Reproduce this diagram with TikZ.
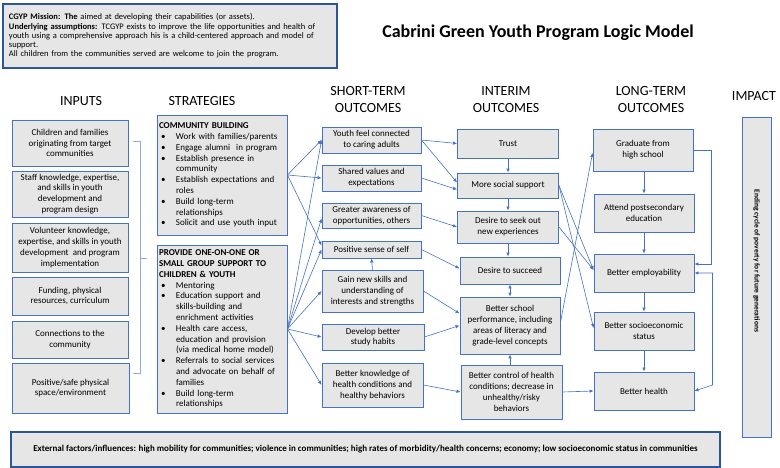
\documentclass[tikz,border=0pt]{standalone}
\usepackage{fontspec}
\setmainfont{Carlito}
\usetikzlibrary{arrows.meta}
\definecolor{boxblue}{HTML}{4472C4}
\definecolor{darkblue}{HTML}{2F5597}
\definecolor{boxgray}{HTML}{E7E6E6}
\definecolor{bracketblue}{HTML}{8FAADC}
\newcommand{\bitem}[1]{\par\noindent\hangindent=17pt\hangafter=1\makebox[17pt][l]{\hspace{2pt}\textbullet}#1\par}

\begin{document}
\begin{tikzpicture}[x=1pt,y=-1pt,
  box/.style={draw=boxblue, fill=boxgray, line width=0.9pt, align=center, inner sep=2pt, font=\fontsize{9}{10.8}\selectfont},
  stratbox/.style={box, align=left, text width=126pt, inner xsep=2pt},
  outerbox/.style={draw=darkblue, fill=boxgray, line width=1.6pt},
  heading/.style={font=\fontsize{14}{17}\selectfont, align=center},
  link/.style={draw=boxblue, line width=0.6pt, -{Latex[length=4pt,width=3.5pt]}},
  twolink/.style={link, {Latex[length=4pt,width=3.5pt]}-{Latex[length=4pt,width=3.5pt]}},
]
\useasboundingbox (0,0) rectangle (780,468);

% mission and title
\node[outerbox, minimum width=334pt, minimum height=64pt, text width=322pt, inner xsep=6pt, align=left, font=\fontsize{8.5}{9.2}\selectfont] (mission) at (170,36)
  {\textbf{CGYP Mission: The} aimed at developing their capabilities (or assets).\\
   \textbf{Underlying assumptions:} TCGYP exists to improve the life opportunities and health of\\
   youth using a comprehensive approach his is a child-centered approach and model of\\
   support.\\
   All children from the communities served are welcome to join the program.};
\node[font=\fontsize{18}{20}\bfseries\selectfont] (title) at (538,33) {Cabrini Green Youth Program Logic Model};

% column headings
\node[heading] (hin) at (81,101) {INPUTS};
\node[heading] (hstr) at (202,101) {STRATEGIES};
\node[heading] (hst) at (368,100) {SHORT-TERM\\OUTCOMES};
\node[heading] (hit) at (506,100) {INTERIM\\OUTCOMES};
\node[heading] (hlt) at (651,100) {LONG-TERM\\OUTCOMES};
\node[heading] (himp) at (754,96) {IMPACT};

% inputs
\node[box, minimum width=116pt, minimum height=46pt] (in1) at (70,143) {Children and families\\originating from target\\communities};
\node[box, minimum width=116pt, minimum height=46pt] (in2) at (70,194) {Staff knowledge, expertise,\\and skills in youth\\development and\\program design};
\node[box, minimum width=116pt, minimum height=49pt] (in3) at (70,247.5) {Volunteer knowledge,\\expertise, and skills in youth\\development\ \ and program\\implementation};
\node[box, minimum width=116pt, minimum height=38pt] (in4) at (70,296) {Funding, physical\\resources, curriculum};
\node[box, minimum width=116pt, minimum height=37pt] (in5) at (70,339.5) {Connections to the\\community};
\node[box, minimum width=117pt, minimum height=50pt] (in6) at (70.5,388) {Positive/safe physical\\space/environment};
\coordinate (brtop) at (140,141);
\coordinate (brbot) at (140,373);
\coordinate (brmid) at (140,258);
\draw[bracketblue, line width=0.7pt] ([xshift=-7pt]brtop) -- (brtop) -- (brbot) -- ([xshift=-7pt]brbot);
\draw[bracketblue, line width=0.7pt] (brmid) -- ([xshift=7pt]brmid);

% strategies
\node[stratbox, minimum height=120pt] (cb) at (222,175)
  {\textbf{COMMUNITY BUILDING}
   \bitem{Work with families/parents}
   \bitem{Engage alumni\ \ in program}
   \bitem{Establish presence in\newline community}
   \bitem{Establish expectations and\newline roles}
   \bitem{Build long-term\newline relationships}
   \bitem{Solicit and use youth input}};
\node[stratbox, minimum height=168pt] (po) at (222,329)
  {\textbf{PROVIDE ONE-ON-ONE OR\\SMALL GROUP SUPPORT TO\\CHILDREN \& YOUTH}
   \bitem{Mentoring}
   \bitem{Education support and\newline skills-building and\newline enrichment activities}
   \bitem{Health care access,\newline education and provision\newline (via medical home model)}
   \bitem{Referrals to social services\newline and advocate on behalf of\newline families}
   \bitem{Build long-term\newline relationships}};

% short-term outcomes
\node[box, minimum width=99pt, minimum height=26pt] (st1) at (371.5,140) {Youth feel connected\\to caring adults};
\node[box, minimum width=99pt, minimum height=26pt] (st2) at (371.5,178) {Shared values and\\expectations};
\node[box, minimum width=99pt, minimum height=25pt] (st3) at (371.5,215.5) {Greater awareness of\\opportunities, others};
\node[box, minimum width=99pt, minimum height=17pt] (st4) at (371.5,249.5) {Positive sense of self};
\node[box, minimum width=101pt, minimum height=42pt] (st5) at (372.5,291) {Gain new skills and\\understanding of\\interests and strengths};
\node[box, minimum width=102pt, minimum height=26pt] (st6) at (373,337) {Develop better\\study habits};
\node[box, minimum width=101pt, minimum height=44pt] (st7) at (372.5,385) {Better knowledge of\\health conditions and\\healthy behaviors};

% interim outcomes
\node[box, minimum width=101pt, minimum height=29pt] (it1) at (508,143.5) {Trust};
\node[box, minimum width=101pt, minimum height=25pt] (it2) at (508,185.5) {More social support};
\node[box, minimum width=101pt, minimum height=32pt] (it3) at (508,227) {Desire to seek out\\new experiences};
\node[box, minimum width=100pt, minimum height=27pt] (it4) at (510,270.5) {Desire to succeed};
\node[box, minimum width=100pt, minimum height=57pt] (it5) at (510,325.5) {Better school\\performance, including\\areas of literacy and\\grade-level concepts};
\node[box, minimum width=101pt, minimum height=54pt] (it6) at (511.5,392) {Better control of health\\conditions; decrease in\\unhealthy/risky\\behaviors};

% long-term outcomes
\node[box, minimum width=100pt, minimum height=42pt] (lt1) at (643,150) {Graduate from\\high school};
\node[box, minimum width=100pt, minimum height=38pt] (lt2) at (644,213) {Attend postsecondary\\education};
\node[box, minimum width=100pt, minimum height=38pt] (lt3) at (644,273) {Better employability};
\node[box, minimum width=100pt, minimum height=38pt] (lt4) at (644,331) {Better socioeconomic\\status};
\node[box, minimum width=100pt, minimum height=38pt] (lt5) at (644,391) {Better health};

% impact
\node[box, rotate=-90, minimum width=320pt, minimum height=29pt, font=\fontsize{7.5}{8.5}\bfseries\selectfont] (imp) at (756.5,277) {Ending cycle of poverty for future generations\hspace*{32pt}};

% external factors
\node[outerbox, minimum width=709pt, minimum height=35pt, font=\fontsize{9}{10}\bfseries\selectfont] (ext) at (365.5,449.5)
  {External factors/influences: high mobility for communities; violence in communities; high rates of morbidity/health concerns; economy; low socioeconomic status in communities};

% strategies to short-term
\draw[link] (cb.east) -- (st1.west);
\draw[link] (cb.east) -- (st2.west);
\draw[link] (cb.east) -- ([yshift=4pt]st4.west);
\draw[link] (po.east) -- (st1.west);
\draw[link] (po.east) -- ([yshift=-3pt]st3.west);
\draw[link] (po.east) -- (st4.west);
\draw[link] (po.east) -- (st5.west);
\draw[link] (po.east) -- (st6.west);
\draw[link] (po.east) -- (st7.west);

% short-term to interim
\draw[link] (st5.north) -- (st4.south);
\draw[link] (st1.east) -- (it1.west);
\draw[link] (st1.east) -- ([yshift=3pt]it2.west);
\draw[link] (st2.east) -- ([yshift=-4pt]it2.west);
\draw[link] (st3.east) -- (it3.west);
\draw[link] (st4.east) -- ([yshift=2pt]it4.west);
\draw[link] (st5.east) -- ([yshift=12pt]it5.west);
\draw[link] (st6.east) -- (it5.west);
\draw[link] (st7.east) -- (it6.west);

% interim chain
\draw[link] (it1.south) -- (it2.north);
\draw[link] (it2.south) -- (it3.north);
\draw[link] (it3.south) -- (it4.north -| it3.south);
\draw[twolink] (it4.south) -- (it5.north);
\draw[link] (it6.north -| it5.south) -- (it5.south);

% interim to long-term
\draw[link] (it2.east) -- ([yshift=3pt]lt3.west);
\draw[link] (it2.east) -- ([yshift=3pt]lt4.west);
\draw[link] (it3.east) -- ([yshift=3pt]lt3.west);
\draw[link] ([yshift=3pt]it5.east) -- ([yshift=-3pt]lt1.west);
\draw[link] (it6.east) -- (lt5.west);

% long-term chain
\draw[link] (lt1.south -| lt2.north) -- (lt2.north);
\draw[link] (lt2.south) -- (lt3.north);
\draw[link] (lt3.south) -- (lt4.north);
\draw[link] (lt4.south) -- (lt5.north);
\draw[link] (lt1.east) -- ++(18,0) |- ([yshift=9pt]lt3.east);
\draw[twolink] (lt3.east) -- ++(18,0) -- ([xshift=18pt,yshift=6pt]lt5.east) -- (lt5.east);
\end{tikzpicture}
\end{document}
